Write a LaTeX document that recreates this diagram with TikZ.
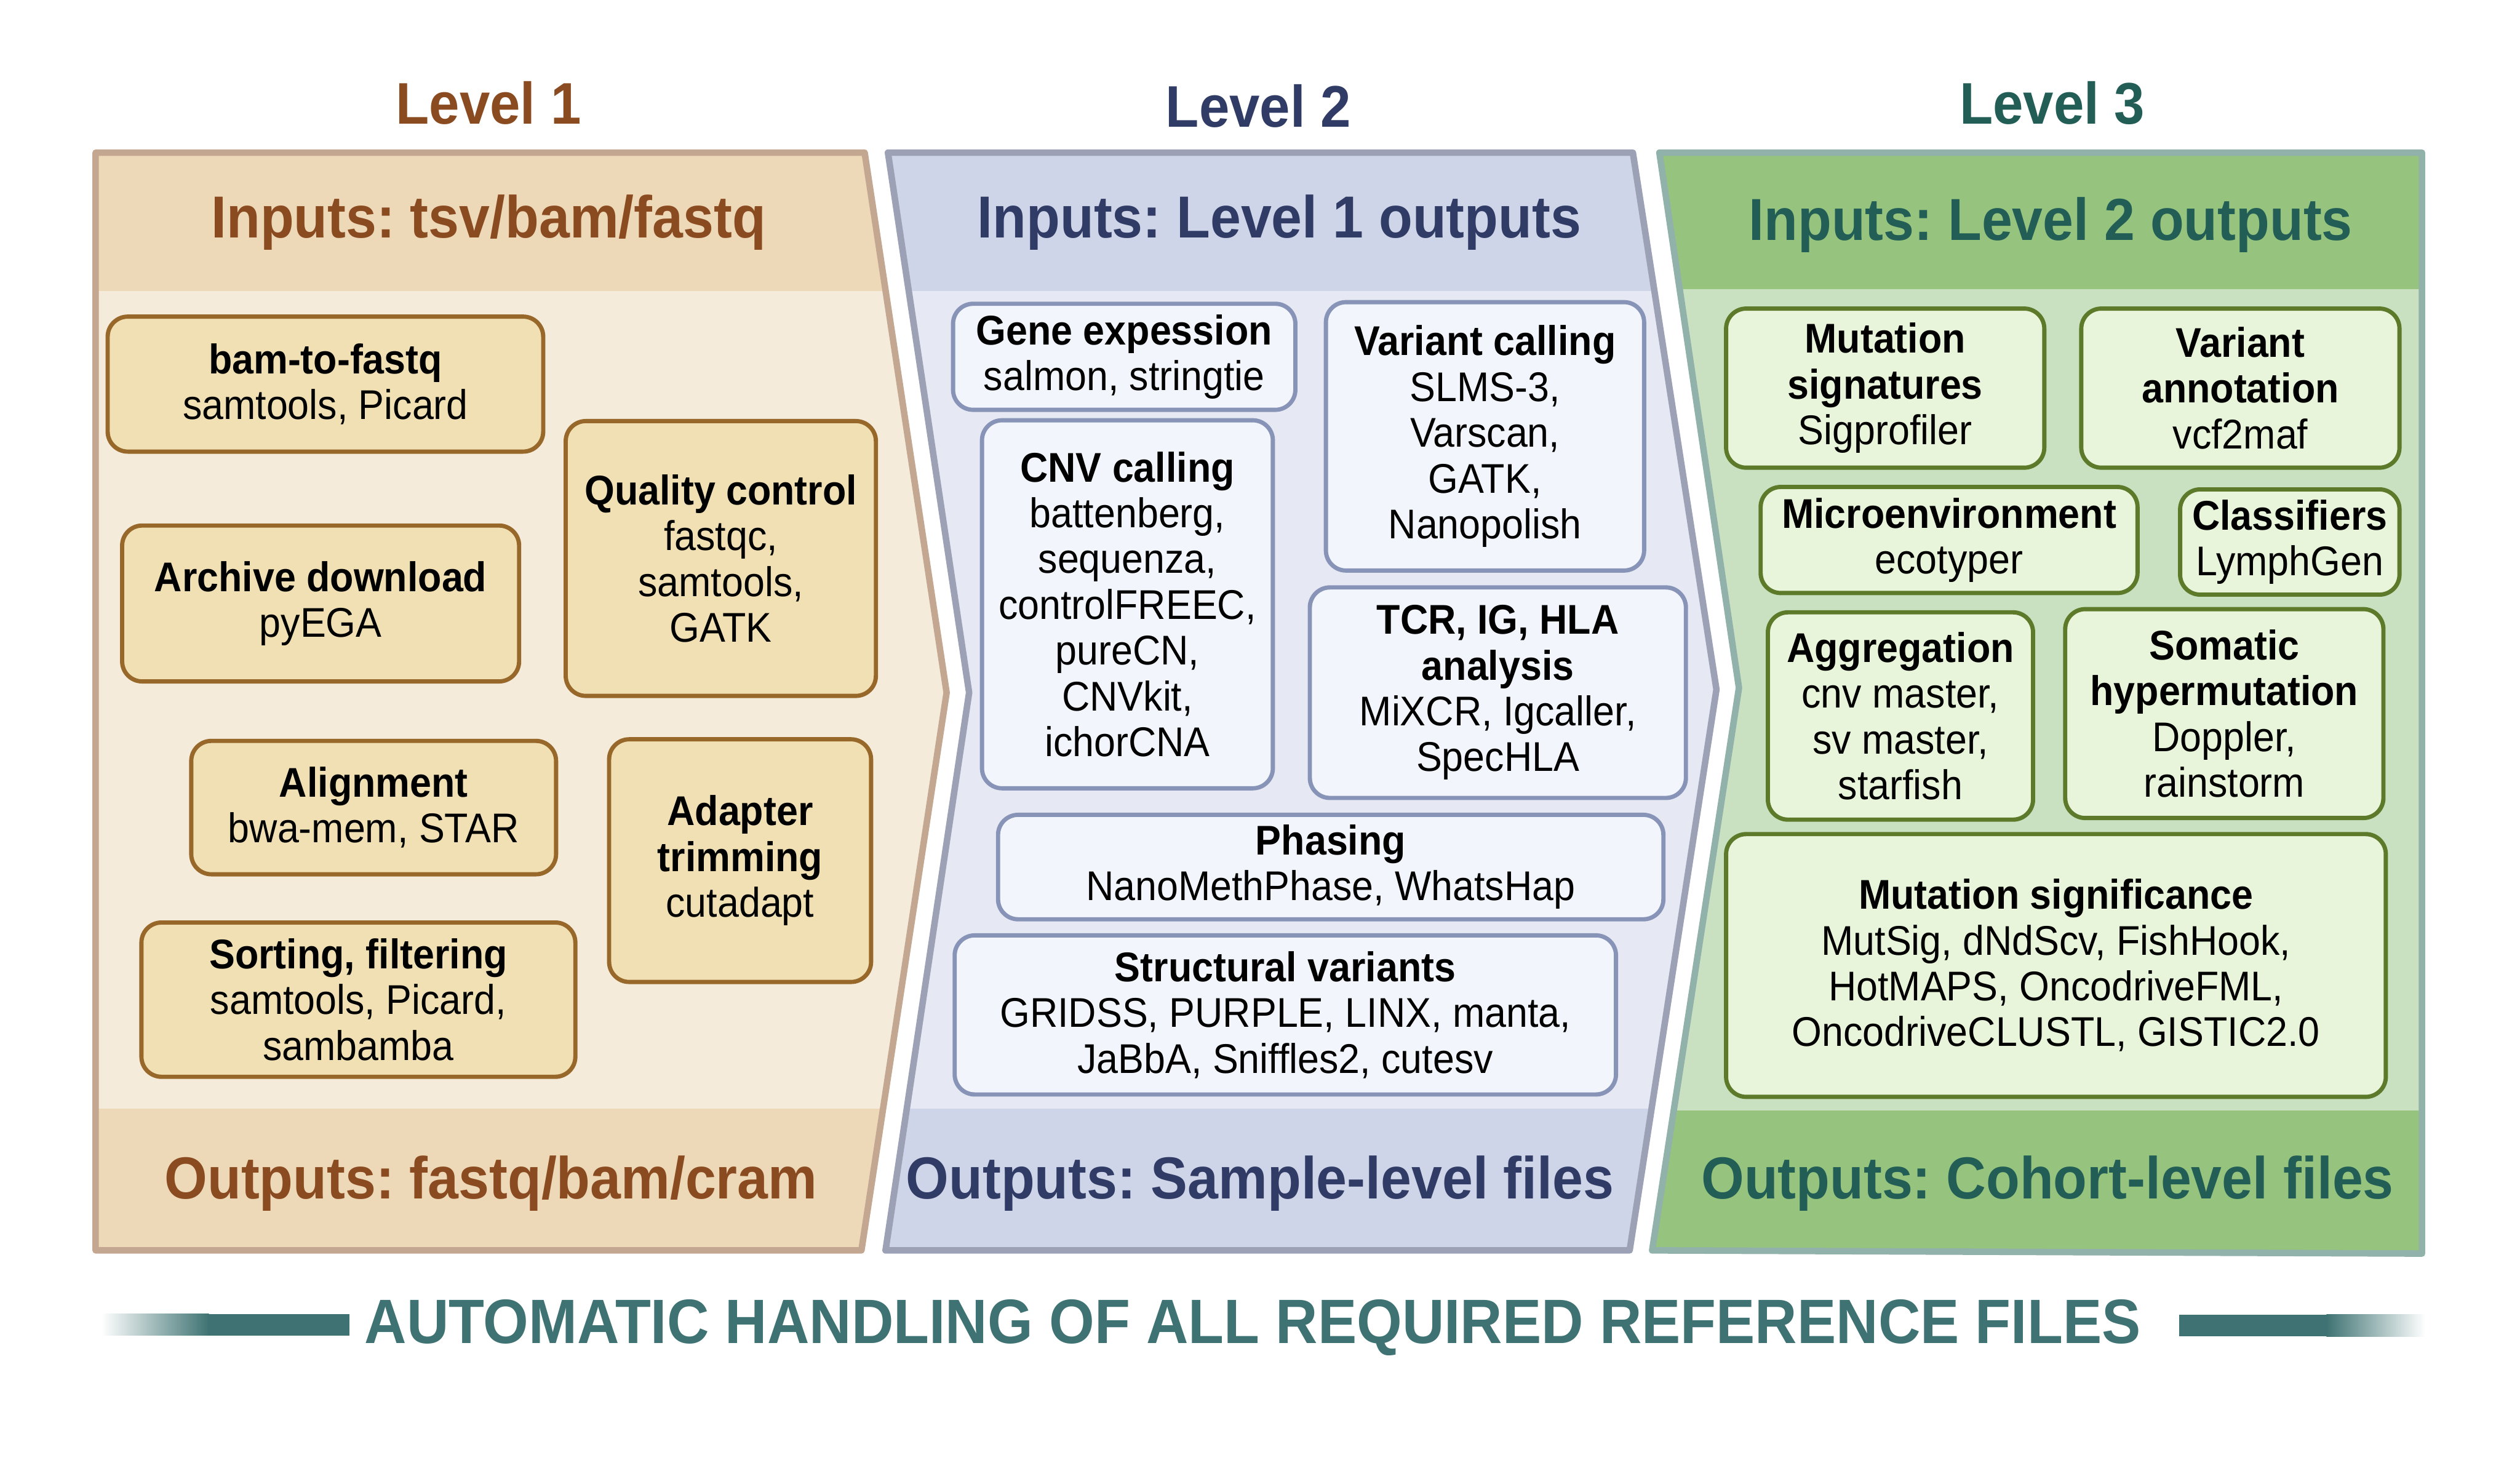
\documentclass[tikz,border=0pt]{standalone}
\usepackage{fontspec}
\setmainfont{Liberation Sans}[FakeStretch=0.93]
\usetikzlibrary{fit}
\frenchspacing
\definecolor{ptan}{HTML}{EDD8B8}
\definecolor{ptanbody}{HTML}{F4EBDA}
\definecolor{ptanline}{HTML}{C4A791}
\definecolor{ptantext}{HTML}{8B4B20}
\definecolor{btanfill}{HTML}{F0E0B4}
\definecolor{btanline}{HTML}{98672A}
\definecolor{pblue}{HTML}{CFD5E8}
\definecolor{pbluebody}{HTML}{E6E9F3}
\definecolor{pblueline}{HTML}{9CA1B6}
\definecolor{pbluetext}{HTML}{313C66}
\definecolor{bbluefill}{HTML}{F2F5FB}
\definecolor{bblueline}{HTML}{8794B7}
\definecolor{pgreen}{HTML}{96C47E}
\definecolor{pgreenbody}{HTML}{C9E1C0}
\definecolor{pgreenline}{HTML}{91B1AB}
\definecolor{pgreentext}{HTML}{225E55}
\definecolor{bgreenfill}{HTML}{E9F5DA}
\definecolor{bgreenline}{HTML}{5D7A2B}
\definecolor{refteal}{HTML}{3F7373}
\newcommand\bodyfont{\fontsize{14.7}{16.2}\selectfont}
\newcommand\headfont{\bfseries\fontsize{21}{25}\selectfont}
\newcommand\levelfont{\bfseries\fontsize{20.8}{24}\selectfont}
\newcommand\reffont{\bfseries\fontsize{22.2}{26}\selectfont}
\tikzset{
  boxbase/.style={rounded corners=0.25cm, line width=1.5pt, inner sep=0pt},
  tanbox/.style={boxbase, draw=btanline, fill=btanfill},
  bluebox/.style={boxbase, draw=bblueline, fill=bbluefill},
  greenbox/.style={boxbase, draw=bgreenline, fill=bgreenfill},
  boxtext/.style={inner sep=0pt, align=center, font=\bodyfont, text=black},
  paneledge/.style={line width=2.3pt, line join=round},
  headtext/.style={anchor=base, font=\headfont, inner sep=0pt},
  leveltext/.style={anchor=base, font=\levelfont, inner sep=0pt},
}
\def\panelA{(59.5,95) -- (538,95) -- (589,431) -- (536,778) -- (59.5,778) -- cycle}
\def\panelB{(552.5,95) -- (1016,95) -- (1068,429) -- (1014,778) -- (551,778) -- (603,431) -- cycle}
\def\panelC{(1032.5,95) -- (1507,95) -- (1507,780) -- (1028,778) -- (1082,428) -- cycle}
\begin{document}
\begin{tikzpicture}[x=0.02cm, y=-0.02cm]
\useasboundingbox (0,0) rectangle (1568,910);
\fill[white] (0,0) rectangle (1568,910);

% ---------- panel 1
\fill[ptanbody] \panelA;
\begin{scope}
  \clip \panelA;
  \fill[ptan] (0,0) rectangle (1568,181);
  \fill[ptan] (0,690) rectangle (1568,910);
\end{scope}
\draw[paneledge, draw=ptanline] \panelA;

% ---------- panel 2
\fill[pbluebody] \panelB;
\begin{scope}
  \clip \panelB;
  \fill[pblue] (0,0) rectangle (1568,181);
  \fill[pblue] (0,690) rectangle (1568,910);
\end{scope}
\draw[paneledge, draw=pblueline] \panelB;

% ---------- panel 3
\fill[pgreenbody] \panelC;
\begin{scope}
  \clip \panelC;
  \fill[pgreen] (0,0) rectangle (1568,180);
  \fill[pgreen] (0,691) rectangle (1568,910);
\end{scope}
\draw[paneledge, draw=pgreenline] \panelC;

% ---------- level titles
\node[leveltext, text=ptantext] (lv1) at (304,77) {Level 1};
\node[leveltext, text=pbluetext] (lv2) at (783,79) {Level 2};
\node[leveltext, text=pgreentext] (lv3) at (1277,77) {Level 3};

% ---------- inputs / outputs
\node[headtext, text=ptantext] (in1) at (304,148) {Inputs: tsv/bam/fastq};
\node[headtext, text=pbluetext] (in2) at (796,148) {Inputs: Level 1 outputs};
\node[headtext, text=pgreentext] (in3) at (1276,149.5) {Inputs: Level 2 outputs};
\node[headtext, text=ptantext] (out1) at (305.5,746) {Outputs: fastq/bam/cram};
\node[headtext, text=pbluetext] (out2) at (784,746) {Outputs: Sample-level files};
\node[headtext, text=pgreentext] (out3) at (1274,746) {Outputs: Cohort-level files};

% ---------- level 1 boxes
\node[tanbox, fit={(67,197) (338,281)}] (b2f) {};
\node[boxtext] (b2f-t) at (b2f) {\textbf{bam-to-fastq}\\samtools, Picard};
\node[tanbox, fit={(352,262) (545,433)}] (qc) {};
\node[boxtext] (qc-t) at (qc) {\textbf{Quality control}\\fastqc,\\samtools,\\GATK};
\node[tanbox, fit={(76,327) (323,424)}] (arch) {};
\node[boxtext] (arch-t) at (arch) {\textbf{Archive download}\\pyEGA};
\node[tanbox, fit={(119,461) (346,544)}] (align) {};
\node[boxtext] (align-t) at (align) {\textbf{Alignment}\\bwa-mem, STAR};
\node[tanbox, fit={(379,460) (542,611)}] (adapt) {};
\node[boxtext] (adapt-t) at (adapt) {\textbf{Adapter}\\\textbf{trimming}\\cutadapt};
\node[tanbox, fit={(88,574) (358,670)}] (sort) {};
\node[boxtext] (sort-t) at (sort) {\textbf{Sorting, filtering}\\samtools, Picard,\\sambamba};

% ---------- level 2 boxes
\node[bluebox, fit={(593,189) (806,255)}] (gene) {};
\node[boxtext] (gene-t) at (gene) {\textbf{Gene expession}\\salmon, stringtie};
\node[bluebox, fit={(825,188) (1023,355)}] (var) {};
\node[boxtext] (var-t) at (var) {\textbf{Variant calling}\\SLMS-3,\\Varscan,\\GATK,\\Nanopolish};
\node[bluebox, fit={(611,261.5) (792,490.5)}] (cnv) {};
\node[boxtext] (cnv-t) at (cnv) {\textbf{CNV calling}\\battenberg,\\sequenza,\\controlFREEC,\\pureCN,\\CNVkit,\\ichorCNA};
\node[bluebox, fit={(815,365.5) (1049,496.5)}] (tcr) {};
\node[boxtext] (tcr-t) at (tcr) {\textbf{TCR, IG, HLA}\\\textbf{analysis}\\MiXCR, Igcaller,\\SpecHLA};
\node[bluebox, fit={(621,507) (1035,572)}] (phase) {};
\node[boxtext] (phase-t) at (phase) {\textbf{Phasing}\\NanoMethPhase, WhatsHap};
\node[bluebox, fit={(594,582) (1005.5,681)}] (sv) {};
\node[boxtext] (sv-t) at (sv) {\textbf{Structural variants}\\GRIDSS, PURPLE, LINX, manta,\\JaBbA, Sniffles2, cutesv};

% ---------- level 3 boxes
\node[greenbox, fit={(1074,192) (1272,291)}] (msig) {};
\node[boxtext] (msig-t) at (msig) {\textbf{Mutation}\\\textbf{signatures}\\Sigprofiler};
\node[greenbox, fit={(1295,192) (1493,291)}] (vann) {};
\node[boxtext] (vann-t) at (vann) {\textbf{Variant}\\\textbf{annotation}\\vcf2maf};
\node[greenbox, fit={(1095.5,303) (1330,369)}] (micro) {};
\node[boxtext] (micro-t) at (micro) {\textbf{Microenvironment}\\ecotyper};
\node[greenbox, fit={(1356.5,304.5) (1493,370)}] (cls) {};
\node[boxtext] (cls-t) at (cls) {\textbf{Classifiers}\\LymphGen};
\node[greenbox, fit={(1100,381) (1265,510)}] (aggr) {};
\node[boxtext] (aggr-t) at (aggr) {\textbf{Aggregation}\\cnv master,\\sv master,\\starfish};
\node[greenbox, fit={(1285,379) (1483,509)}] (shm) {};
\node[boxtext] (shm-t) at (shm) {\textbf{Somatic}\\\textbf{hypermutation}\\Doppler,\\rainstorm};
\node[greenbox, fit={(1074,519) (1484.5,682.5)}] (msignif) {};
\node[boxtext] (msignif-t) at (msignif) {\textbf{Mutation significance}\\MutSig, dNdScv, FishHook,\\HotMAPS, OncodriveFML,\\OncodriveCLUSTL, GISTIC2.0};

% ---------- reference files line
\shade[left color=white, right color=refteal] (63,817.5) rectangle (130,831);
\fill[refteal] (129.5,817.5) rectangle (217.5,831);
\fill[refteal] (1356,818) rectangle (1448,831.5);
\shade[left color=refteal, right color=white] (1447.5,818) rectangle (1509,831.5);
\node[anchor=base, font=\reffont, text=refteal, inner sep=0pt] (ref) at (779.5,836) {AUTOMATIC HANDLING OF ALL REQUIRED REFERENCE FILES};
\end{tikzpicture}
\end{document}
